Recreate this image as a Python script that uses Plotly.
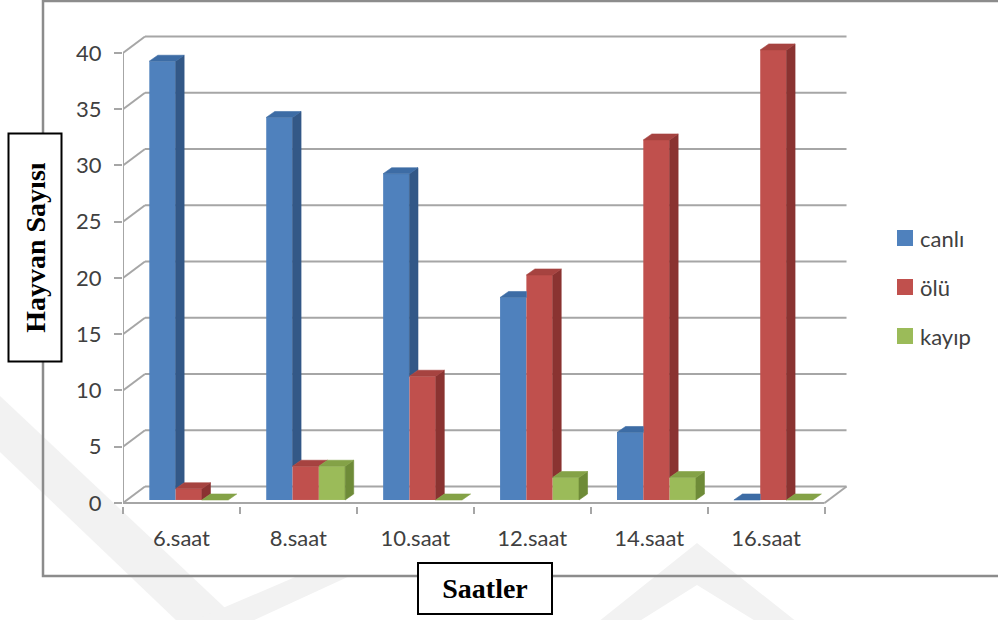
import plotly.graph_objects as go

# ---- data ---------------------------------------------------------------
categories = ["6.saat", "8.saat", "10.saat", "12.saat", "14.saat", "16.saat"]
canli = [39, 34, 29, 18, 6, 0]
olu = [1, 3, 11, 20, 32, 40]
kayip = [0, 3, 0, 2, 2, 0]
series_names = ["canlı", "ölü", "kayıp"]
y_ticks = [0, 5, 10, 15, 20, 25, 30, 35, 40]

# ---- page / plot-area geometry -------------------------------------------
W, H = 998, 620
ML, MR, MT, MB = 123, 115, 20, 90
X_RANGE = [-0.5, 6.0]
Y_RANGE = [-2.4, 42.93]

# pseudo-3D geometry, in data units
WALL_DX, WALL_DY = 0.188, 1.47   # depth of the back wall / floor
BAR_BASE = 0.27                  # bars stand a little behind the front edge
BAR_W = 0.225
BAR_DX, BAR_DY = 0.073, 0.53     # visible depth of each column
FIRST_OFFSET = -0.275            # left edge of the first column in a group

FRONT = ["#4F81BD", "#C0504D", "#9BBB59"]
SIDE = ["#335887", "#8A3331", "#6E8B38"]
TOP = ["#3D6CA5", "#A64340", "#84A247"]
GRID = "#a6a6a6"
TEXT = "#404040"
FONT = "Lato"
TITLE_FONT = "Liberation Serif"
WATERMARK = "#f2f2f2"


def px_x(px):
    return (px - ML) / (W - ML - MR)


def px_y(py):
    return (H - MB - py) / (H - MT - MB)


def paper_path(points):
    """SVG path in paper coordinates from a list of page-pixel points."""
    parts = []
    for j, (px, py) in enumerate(points):
        parts.append(("M" if j == 0 else "L") + f"{px_x(px):.5f},{px_y(py):.5f}")
    return " ".join(parts) + " Z"


values = [canli, olu, kayip]
n_cat = len(categories)
left_edge = X_RANGE[0]
right_edge = n_cat - 0.5

fig = go.Figure()

shapes = []

# ---- faint page watermark (chevrons) -------------------------------------
for poly in (
    [(0, 396), (0, 452), (178, 622), (240, 622)],
    [(190, 622), (250, 622), (352, 575), (300, 575)],
    [(598, 622), (697, 543), (797, 622), (757, 622), (697, 585), (638, 622)],
):
    shapes.append(dict(type="path", layer="below", xref="paper", yref="paper",
                       path=paper_path(poly), fillcolor=WATERMARK,
                       line=dict(width=0)))

# ---- walls, floor and grid (below the data) -------------------------------
grid_line = dict(color=GRID, width=2)
for t in y_ticks:
    shapes.append(dict(type="line", layer="below", xref="x", yref="y",
                       x0=left_edge, y0=t, x1=left_edge + WALL_DX, y1=t + WALL_DY,
                       line=grid_line))
    shapes.append(dict(type="line", layer="below", xref="x", yref="y",
                       x0=left_edge + WALL_DX, y0=t + WALL_DY,
                       x1=right_edge + WALL_DX, y1=t + WALL_DY,
                       line=grid_line))
# value axis line
shapes.append(dict(type="line", layer="below", xref="x", yref="y",
                   x0=left_edge, y0=0, x1=left_edge, y1=max(y_ticks),
                   line=grid_line))
# floor: front and right edges
shapes.append(dict(type="line", layer="below", xref="x", yref="y",
                   x0=left_edge, y0=0, x1=right_edge, y1=0, line=grid_line))
shapes.append(dict(type="line", layer="below", xref="x", yref="y",
                   x0=right_edge, y0=0, x1=right_edge + WALL_DX, y1=WALL_DY,
                   line=grid_line))

# outer chart frame
shapes.append(dict(type="rect", layer="below", xref="paper", yref="paper",
                   x0=px_x(43), y0=px_y(576), x1=px_x(1003), y1=px_y(1),
                   line=dict(color="#8c8c8c", width=2.5)))

# ---- column front faces ---------------------------------------------------
for k, (name, vals) in enumerate(zip(series_names, values)):
    centers = [i + FIRST_OFFSET + k * BAR_W + BAR_W / 2 for i in range(n_cat)]
    fig.add_trace(go.Bar(
        x=centers, y=vals, base=BAR_BASE, width=BAR_W, name=name,
        marker=dict(color=FRONT[k], line=dict(width=0)),
        showlegend=False, hoverinfo="skip"))

# ---- column side and top faces --------------------------------------------
for k, vals in enumerate(values):
    side_x, side_y, top_x, top_y = [], [], [], []
    for i, v in enumerate(vals):
        xl = i + FIRST_OFFSET + k * BAR_W
        xr = xl + BAR_W
        top = BAR_BASE + v
        neighbour = values[k + 1][i] if k + 1 < len(values) else None
        # side face: the part hidden by the next column is left out
        low = BAR_BASE
        if neighbour is not None:
            low = BAR_BASE + min(v, neighbour)
        if top > low:
            side_x += [xr, xr + BAR_DX, xr + BAR_DX, xr, xr, None]
            side_y += [low, low + BAR_DY, top + BAR_DY, top, low, None]
        # top face
        if neighbour is not None and neighbour > v:
            top_x += [xl, xr, xr, xl + BAR_DX, xl, None]
            top_y += [top, top, top + BAR_DY, top + BAR_DY, top, None]
        else:
            top_x += [xl, xr, xr + BAR_DX, xl + BAR_DX, xl, None]
            top_y += [top, top, top + BAR_DY, top + BAR_DY, top, None]
    fig.add_trace(go.Scatter(x=side_x, y=side_y, mode="lines", fill="toself",
                             fillcolor=SIDE[k], line=dict(color=SIDE[k], width=0.6),
                             showlegend=False, hoverinfo="skip"))
    fig.add_trace(go.Scatter(x=top_x, y=top_y, mode="lines", fill="toself",
                             fillcolor=TOP[k], line=dict(color=TOP[k], width=0.6),
                             showlegend=False, hoverinfo="skip"))

# ---- legend ----------------------------------------------------------------
annotations = []
legend_y = [238, 287, 336]
for k, name in enumerate(series_names):
    cy = legend_y[k]
    shapes.append(dict(type="rect", xref="paper", yref="paper",
                       x0=px_x(897), x1=px_x(913), y0=px_y(cy + 8), y1=px_y(cy - 8),
                       fillcolor=FRONT[k], line=dict(width=0)))
    annotations.append(dict(x=px_x(918), y=px_y(cy), xref="paper", yref="paper",
                            text=name, showarrow=False, xanchor="left", yanchor="middle",
                            font=dict(family=FONT, size=22, color=TEXT)))

# ---- boxed axis titles -------------------------------------------------------
annotations.append(dict(x=px_x(35.5), y=px_y(248), xref="paper", yref="paper",
                        xanchor="center", yanchor="middle",
                        text="<b>Hayvan Sayısı</b>", showarrow=False, textangle=-90,
                        width=226, height=51, borderpad=0, borderwidth=2,
                        bordercolor="#000000", bgcolor="#ffffff",
                        font=dict(family=TITLE_FONT, size=28, color="#000000")))
annotations.append(dict(x=px_x(485), y=px_y(588.5), xref="paper", yref="paper",
                        xanchor="center", yanchor="middle",
                        text="<b>Saatler</b>", showarrow=False,
                        width=132, height=49, borderpad=0, borderwidth=2,
                        bordercolor="#000000", bgcolor="#ffffff",
                        font=dict(family=TITLE_FONT, size=28, color="#000000")))

fig.update_layout(
    width=W, height=H,
    margin=dict(l=ML, r=MR, t=MT, b=MB, pad=0),
    paper_bgcolor="#ffffff", plot_bgcolor="rgba(0,0,0,0)",
    barmode="overlay",
    shapes=shapes, annotations=annotations,
    showlegend=False,
    xaxis=dict(range=X_RANGE, tickvals=list(range(n_cat)), ticktext=categories,
               ticks="", showgrid=False, zeroline=False, showline=False,
               anchor="free", position=px_y(506),
               ticklabelstandoff=17,
               minor=dict(tickvals=[i - 0.5 for i in range(n_cat + 1)],
                          ticks="outside", ticklen=7, tickwidth=2, tickcolor=GRID,
                          showgrid=False),
               tickfont=dict(family=FONT, size=22, color=TEXT), fixedrange=True),
    yaxis=dict(range=Y_RANGE, tickvals=y_ticks, ticks="outside", ticklen=8,
               tickwidth=2, tickcolor=GRID, showgrid=False, zeroline=False,
               showline=False, ticklabelstandoff=8,
               tickfont=dict(family=FONT, size=22, color=TEXT), fixedrange=True),
)

fig.write_html("out.html")
